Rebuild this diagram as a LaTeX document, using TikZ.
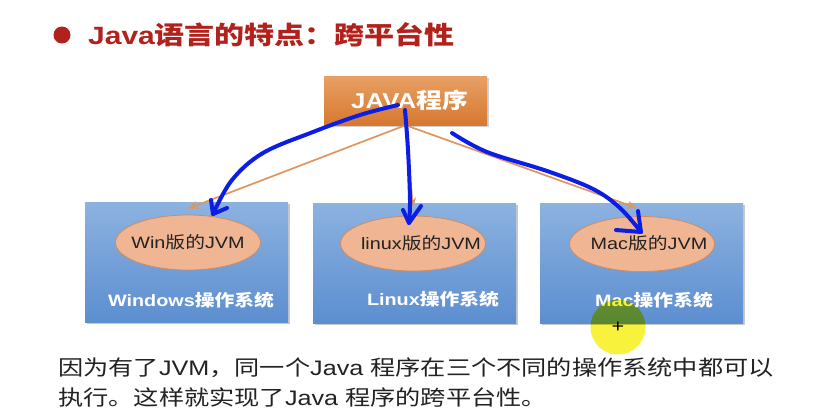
\documentclass[tikz,border=0pt]{standalone}
\usepackage{fontspec}
\setmainfont[FakeStretch=1.2]{Liberation Sans}
\newfontfamily\cjk[FakeStretch=1.2]{Noto Sans CJK SC}
\newcommand{\C}[1]{{\cjk #1}}
\usetikzlibrary{shadows,shapes.geometric,arrows.meta}
\definecolor{titlered}{RGB}{178,34,28}
\definecolor{progtop}{RGB}{232,160,100}
\definecolor{progbot}{RGB}{214,120,48}
\definecolor{ostop}{RGB}{140,178,224}
\definecolor{osbot}{RGB}{92,142,208}
\definecolor{jvmfill}{RGB}{240,182,148}
\definecolor{jvmdraw}{RGB}{208,140,96}
\definecolor{oline}{RGB}{222,150,96}
\definecolor{ink}{RGB}{12,30,228}
\definecolor{textgray}{RGB}{34,34,34}
\definecolor{hilite}{RGB}{248,242,60}
\tikzset{
  progbox/.style={rectangle,top color=progtop,bottom color=progbot,draw=none,
    minimum width=163pt,minimum height=49pt,inner sep=0,text=white,
    font=\fontsize{21.5}{24}\selectfont\bfseries,
    drop shadow={shadow xshift=1.5pt,shadow yshift=-1.5pt,opacity=0.3,fill=black!60}},
  osbox/.style={rectangle,top color=ostop,bottom color=osbot,draw=none,
    minimum width=203pt,minimum height=120pt,inner sep=0,
    drop shadow={shadow xshift=1.5pt,shadow yshift=-1.5pt,opacity=0.35,fill=black!60}},
  jvm/.style={ellipse,fill=jvmfill,draw=jvmdraw,line width=0.8pt,
    minimum width=145pt,minimum height=55pt,inner sep=0},
  jvmtext/.style={inner sep=0,text=textgray,font=\fontsize{16.5}{20}\selectfont},
  oslabel/.style={inner sep=0,text=white,font=\fontsize{16.5}{20}\selectfont\bfseries},
  orangeline/.style={draw=oline,line width=1.7pt,-{Stealth[length=10pt,width=8pt]}},
  inkline/.style={draw=ink,line width=4pt,line cap=round,line join=round},
  bodytext/.style={anchor=west,inner sep=0,text=textgray,font=\fontsize{21}{25}\selectfont},
}
\begin{document}
\begin{tikzpicture}[x=1pt,y=-1pt]
\useasboundingbox (0,0) rectangle (824,418);
\fill[white] (0,0) rectangle (824,418);

% title
\node[circle,fill=titlered,minimum size=17pt,inner sep=0] (bullet) at (62,35) {};
\node[anchor=west,inner sep=0,text=titlered,font=\fontsize{25}{30}\selectfont\bfseries] (title) at (88,35) {Java\C{语言的特点：跨平台性}};

% program box
\node[progbox] (prog) at (405.5,100.5) {\hspace*{8pt}JAVA\C{程序}};

% OS boxes
\node[osbox] (win) at (186.5,262.5) {};
\node[osbox] (lin) at (414.5,263) {};
\node[osbox] (mac) at (641.5,263) {};

% JVM ellipses
\node[jvm] (winjvm) at (188,242.5) {};
\node[jvm] (linjvm) at (413,243.5) {};
\node[jvm] (macjvm) at (642,244) {};
\node[jvmtext] (wint) at (188,242) {Win\C{版的}JVM};
\node[jvmtext] (lint) at (421,243) {linux\C{版的}JVM};
\node[jvmtext] (mact) at (649,243) {Mac\C{版的}JVM};

% OS labels
\node[oslabel] (winl) at (191,300) {Windows\C{操作系统}};
\node[oslabel] (linl) at (433,299.5) {Linux\C{操作系统}};
\node[oslabel] (macl) at (654,300.5) {Mac\C{操作系统}};

% orange connectors
\draw[orangeline] (prog.south) -- ([xshift=0pt,yshift=6pt]winjvm.north);
\draw[orangeline] (prog.south) -- ([yshift=8pt]linjvm.north);
\draw[orangeline] (prog.south) -- ([xshift=-5pt,yshift=8pt]macjvm.north);

% hand-drawn ink annotations
\coordinate (a1) at (398,105);
\coordinate (a1t) at (213,214);
\draw[inkline] plot[smooth,tension=0.6] coordinates {(a1) (360,115) (313,132) (263,153) (232,180) (a1t)};
\draw[inkline] (211,200) -- (a1t) -- (227,208);
\coordinate (a2) at (405,110);
\coordinate (a2t) at (409,223);
\draw[inkline] plot[smooth,tension=0.6] coordinates {(a2) (408,150) (410,200) (a2t)};
\draw[inkline] (403,210) -- (a2t) -- (421,206);
\coordinate (a3) at (452,133);
\coordinate (a3t) at (641,232);
\draw[inkline] plot[smooth,tension=0.6] coordinates {(a3) (487,152) (547,171) (593,189) (620,208) (a3t)};
\draw[inkline] (638,211) -- (a3t) -- (616,230);

% cursor highlight
\begin{scope}[blend mode=multiply]
\fill[hilite] (618,327) circle (27.5);
\end{scope}
\node[inner sep=0,font=\fontsize{18}{18}\selectfont] (cursor) at (618,327) {+};

% body text
\node[bodytext] (l1) at (58,368) {\C{因为有了}JVM\C{，同一个}Java \C{程序在三个不同的操作系统中都可以}};
\node[bodytext] (l2) at (58,397) {\C{执行。这样就实现了}Java \C{程序的跨平台性。}};
\end{tikzpicture}
\end{document}
